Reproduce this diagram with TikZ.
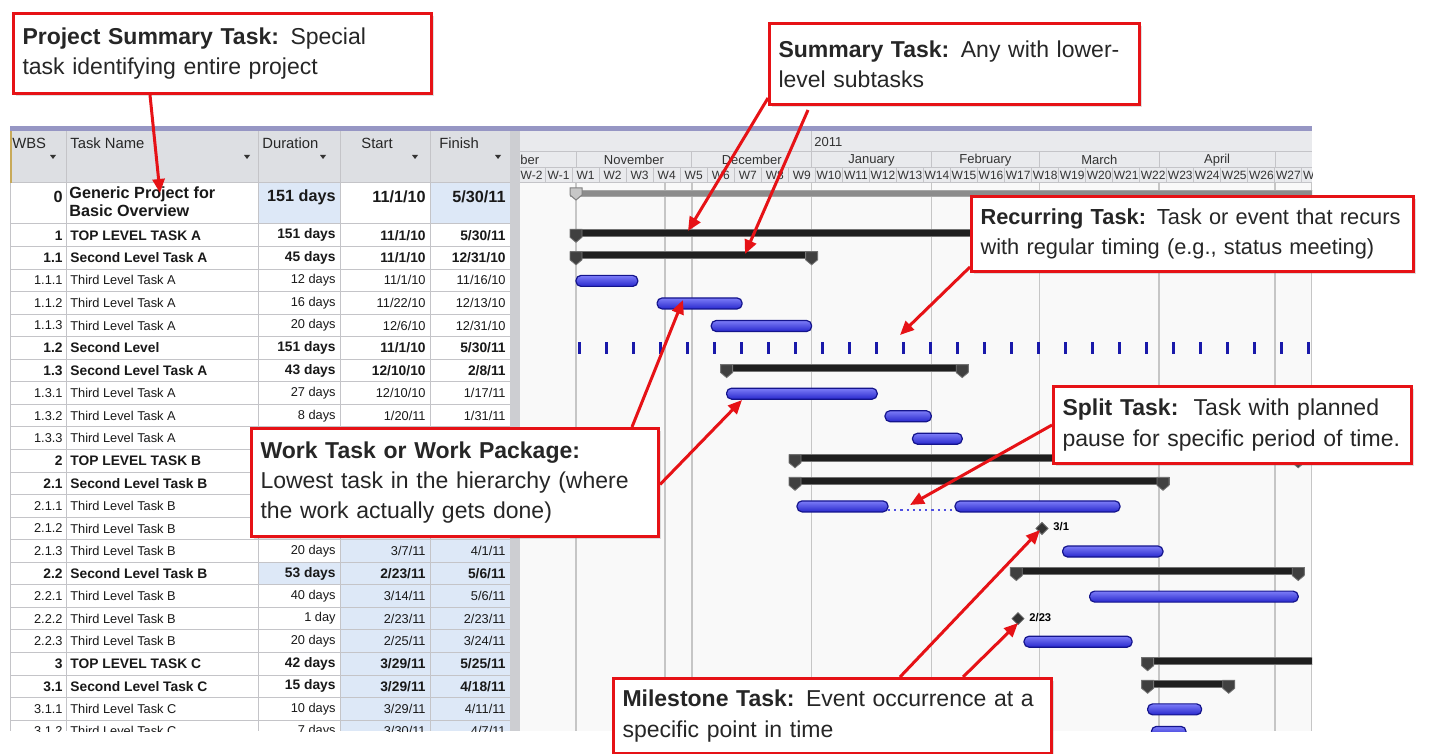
\documentclass[tikz,border=0pt]{standalone}
\usepackage{fontspec}
\setmainfont{Liberation Sans}
\usepackage{tikz}
\usetikzlibrary{arrows.meta,shadows}

\definecolor{calloutred}{RGB}{230,18,22}
\definecolor{barblue}{RGB}{40,40,205}
\definecolor{barbluetop}{RGB}{125,125,248}
\definecolor{barblueline}{RGB}{20,20,140}
\definecolor{splitblue}{RGB}{80,80,225}
\definecolor{tickblue}{RGB}{25,25,170}
\definecolor{cellblue}{RGB}{221,232,247}
\definecolor{headgrey}{RGB}{221,223,227}
\definecolor{scalegrey}{RGB}{233,234,237}
\definecolor{gridgrey}{RGB}{196,196,200}
\definecolor{headline}{RGB}{150,150,196}
\definecolor{chartbg}{RGB}{249,249,249}
\definecolor{sepgrey}{RGB}{205,206,210}
\definecolor{goldline}{RGB}{200,170,90}

\newcommand{\rowrm}{\fontsize{6.4}{8}\selectfont}
\newcommand{\rowbf}{\fontsize{6.9}{8}\selectfont\bfseries}

% one line of the task table: row, wbs, name, duration, start, finish, font
\newcommand{\wbsrow}[7]{%
  \pgfmathsetmacro{\rowY}{235.3+22.55*(#1-1)}
  \node[cellr, font=#7] (wbs#1) at (63,\rowY) {#2};
  \node[celll, font=#7] (name#1) at (70,\rowY) {#3};
  \node[cellr, font=#7] (dur#1) at (336,\rowY) {#4};
  \node[cellr, font=#7] (start#1) at (426,\rowY) {#5};
  \node[cellr, font=#7] (fin#1) at (506,\rowY) {#6};
}
% gantt bars: row, from, to
\newcommand{\workbar}[3]{%
  \pgfmathsetmacro{\barY}{235.8+22.55*(#1-1)}
  \draw[work] (#2,\barY-5.5) rectangle (#3,\barY+5.5);
}
\newcommand{\sumbar}[3]{%
  \pgfmathsetmacro{\barY}{232.8+22.55*(#1-1)}
  \filldraw[summary] (#2-6,\barY-3.5) rectangle (#3+6,\barY+3.5);
  \filldraw[summarycap] (#2-6,\barY-3.5) -- ++(12,0) -- ++(0,8) -- ++(-6,5) -- ++(-6,-5) -- cycle;
  \filldraw[summarycap] (#3-6,\barY-3.5) -- ++(12,0) -- ++(0,8) -- ++(-6,5) -- ++(-6,-5) -- cycle;
}
\newcommand{\mstone}[4]{%
  \pgfmathsetmacro{\barY}{235.3+22.55*(#1-1)}
  \filldraw[milestone] (#2-6,\barY) -- (#2,\barY-6) -- (#2+6,\barY) -- (#2,\barY+6) -- cycle;
  \node[msnote] (#4) at (#2+11,\barY-1.5) {#3};
}

\begin{document}
\begin{tikzpicture}[x=0.5pt,y=-0.5pt]
\tikzstyle{callout} = [rectangle, draw=calloutred, line width=1.5pt, fill=white, anchor=north west, align=left, inner xsep=4.5pt, inner ysep=2pt, font=\fontsize{11.5}{15.2}\selectfont, text=black!85, drop shadow={opacity=0.25,shadow xshift=1.2pt,shadow yshift=-1.2pt}]
\tikzstyle{callarrow} = [calloutred, line width=1.5pt, -{Triangle[length=7pt,width=6pt]}]
\tikzstyle{gridline} = [gridgrey, line width=0.5pt]
\tikzstyle{chartline} = [gray!45, line width=0.8pt]
\tikzstyle{cellr} = [anchor=east, inner sep=0pt, text=black!90]
\tikzstyle{celll} = [anchor=west, inner sep=0pt, text=black!90]
\tikzstyle{headlbl} = [anchor=west, inner sep=0pt, font=\fontsize{7.4}{8}\selectfont, text=black!85]
\tikzstyle{scalelbl} = [inner sep=0pt, font=\fontsize{6.5}{7}\selectfont, text=black!80]
\tikzstyle{weeklbl} = [inner sep=0pt, font=\fontsize{6}{7}\selectfont, text=black!80]
\tikzstyle{work} = [draw=barblueline, line width=0.6pt, top color=barbluetop, bottom color=barblue, rounded corners=2.5pt]
\tikzstyle{summary} = [fill=black!88, draw=black!55, line width=0.4pt]
\tikzstyle{summarycap} = [fill=black!75, draw=black!55, line width=0.4pt]
\tikzstyle{project} = [fill=black!45, draw=black!35, line width=0.4pt]
\tikzstyle{projectcap} = [fill=black!22, draw=black!50, line width=0.5pt]
\tikzstyle{milestone} = [fill=black!80, draw=black!60, line width=0.4pt]
\tikzstyle{msnote} = [anchor=west, inner sep=0pt, font=\fontsize{5.6}{6}\selectfont\bfseries]
\tikzstyle{recur} = [fill=tickblue]

\useasboundingbox (0,0) rectangle (1440,754);
\fill[white] (0,0) rectangle (1440,754);

% table
\begin{scope}
\clip (10,126) rectangle (510,731);
\fill[white] (10,183) rectangle (510,731);
\fill[headgrey] (10,131) rectangle (510,183);
\fill[cellblue] (258,183) rectangle (340,224) (430,183) rectangle (510,224);
\fill[cellblue] (340,539.7) rectangle (510,731);
\fill[cellblue] (258,562.25) rectangle (340,584.8);
\foreach \k in {0,...,22} \draw[gridline] (10,{224+22.55*\k}) -- (510,{224+22.55*\k});
\foreach \cx in {10,66,258,340,430} \draw[gridline] (\cx,131) -- (\cx,731);
\draw[gridline] (10,183) -- (510,183);
\draw[goldline, line width=1pt] (11,131) -- (11,183);
\node[headlbl] (hWBS) at (12,143) {WBS};
\node[headlbl] (hName) at (70,143) {Task Name};
\node[headlbl] (hDur) at (262,143) {Duration};
\node[headlbl] (hStart) at (361,143) {Start};
\node[headlbl] (hFin) at (439,143) {Finish};
\foreach \dx in {53,247,323,415,498} \fill[black!80] (\dx-3,155) -- (\dx+3,155) -- (\dx,159) -- cycle;
\node[cellr, font=\fontsize{8.1}{9}\selectfont\bfseries] (wbs0) at (63,197) {0};
\node[celll, anchor=north west, align=left, font=\fontsize{8.1}{9}\selectfont\bfseries] (name0) at (69,186) {Generic Project for\\Basic Overview};
\node[cellr, font=\fontsize{8.1}{9}\selectfont\bfseries] (dur0) at (336,197) {151 days};
\node[cellr, font=\fontsize{8.1}{9}\selectfont\bfseries] (start0) at (426,197) {11/1/10};
\node[cellr, font=\fontsize{8.1}{9}\selectfont\bfseries] (fin0) at (506,197) {5/30/11};
\wbsrow{1}{1}{TOP LEVEL TASK A}{151 days}{11/1/10}{5/30/11}{\rowbf}
\wbsrow{2}{1.1}{Second Level Task A}{45 days}{11/1/10}{12/31/10}{\rowbf}
\wbsrow{3}{1.1.1}{Third Level Task A}{12 days}{11/1/10}{11/16/10}{\rowrm}
\wbsrow{4}{1.1.2}{Third Level Task A}{16 days}{11/22/10}{12/13/10}{\rowrm}
\wbsrow{5}{1.1.3}{Third Level Task A}{20 days}{12/6/10}{12/31/10}{\rowrm}
\wbsrow{6}{1.2}{Second Level}{151 days}{11/1/10}{5/30/11}{\rowbf}
\wbsrow{7}{1.3}{Second Level Task A}{43 days}{12/10/10}{2/8/11}{\rowbf}
\wbsrow{8}{1.3.1}{Third Level Task A}{27 days}{12/10/10}{1/17/11}{\rowrm}
\wbsrow{9}{1.3.2}{Third Level Task A}{8 days}{1/20/11}{1/31/11}{\rowrm}
\wbsrow{10}{1.3.3}{Third Level Task A}{}{}{}{\rowrm}
\wbsrow{11}{2}{TOP LEVEL TASK B}{}{}{}{\rowbf}
\wbsrow{12}{2.1}{Second Level Task B}{}{}{}{\rowbf}
\wbsrow{13}{2.1.1}{Third Level Task B}{}{}{}{\rowrm}
\wbsrow{14}{2.1.2}{Third Level Task B}{}{}{}{\rowrm}
\wbsrow{15}{2.1.3}{Third Level Task B}{20 days}{3/7/11}{4/1/11}{\rowrm}
\wbsrow{16}{2.2}{Second Level Task B}{53 days}{2/23/11}{5/6/11}{\rowbf}
\wbsrow{17}{2.2.1}{Third Level Task B}{40 days}{3/14/11}{5/6/11}{\rowrm}
\wbsrow{18}{2.2.2}{Third Level Task B}{1 day}{2/23/11}{2/23/11}{\rowrm}
\wbsrow{19}{2.2.3}{Third Level Task B}{20 days}{2/25/11}{3/24/11}{\rowrm}
\wbsrow{20}{3}{TOP LEVEL TASK C}{42 days}{3/29/11}{5/25/11}{\rowbf}
\wbsrow{21}{3.1}{Second Level Task C}{15 days}{3/29/11}{4/18/11}{\rowbf}
\wbsrow{22}{3.1.1}{Third Level Task C}{10 days}{3/29/11}{4/11/11}{\rowrm}
\wbsrow{23}{3.1.2}{Third Level Task C}{7 days}{3/30/11}{4/7/11}{\rowrm}
\end{scope}
\fill[sepgrey] (510,126) rectangle (520,731);
\fill[headline] (10,126) rectangle (1312,131);

% gantt chart
\begin{scope}
\clip (520,131) rectangle (1312,731);
\fill[chartbg] (520,183) rectangle (1312,731);
\fill[scalegrey] (520,131) rectangle (1312,183);
\draw[gridline] (520,152) -- (1312,152) (520,168) -- (1312,168) (520,183) -- (1312,183);
\draw[gridline] (811.6,131) -- (811.6,152);
\node[scalelbl, anchor=west] (yr2011) at (814,142) {2011};
\foreach \ms/\me/\mname in {456.3/576/October, 576/691.9/November, 691.9/811.6/December, 811.6/931.3/January, 931.3/1039.4/February, 1039.4/1159.2/March, 1159.2/1275/April} {
  \draw[gridline] (\ms,152) -- (\ms,168);
  \node[scalelbl] (m\mname) at ({(\ms+\me)/2},160) {\mname};
}
\draw[gridline] (1275,152) -- (1275,168);
\foreach \k in {-1,...,28} {
  \pgfmathsetmacro{\weekX}{572.1+27.03*(\k-1)}
  \pgfmathtruncatemacro{\weekN}{\k<1 ? \k-1 : \k}
  \draw[gridline] (\weekX,168) -- (\weekX,183);
  \node[weeklbl] (w\k) at (\weekX+13.5,175.5) {W\weekN};
}
\foreach \gx in {576,665,691.9,811.6,931.3,1039.4,1159.2,1275,1311.5} \draw[chartline] (\gx,183) -- (\gx,731);
% bars
\filldraw[project] (570,190) rectangle (1320,196);
\filldraw[projectcap] (570,188) -- (582,188) -- (582,195) -- (576,200) -- (570,195) -- cycle;
\sumbar{1}{576}{1387}
\sumbar{2}{576}{811.6}
\workbar{3}{576}{637.8}
\workbar{4}{657.1}{742.1}
\workbar{5}{711.2}{811.6}
\foreach \i in {0,...,27} \fill[recur] (577.5+27.03*\i,342) rectangle ++(3,12);
\sumbar{7}{726.6}{962.2}
\workbar{8}{726.6}{877.2}
\workbar{9}{885}{931.3}
\workbar{10}{912.5}{962.2}
\sumbar{11}{795}{1298.2}
\sumbar{12}{795}{1163}
\workbar{13}{797}{888}
\draw[splitblue, dotted, line width=1.1pt] (888,\barY+3.5) -- (955,\barY+3.5);
\workbar{13}{955}{1120}
\mstone{14}{1042}{3/1}{ms31}
\workbar{15}{1062.6}{1163}
\sumbar{16}{1016.3}{1298.2}
\workbar{17}{1089.6}{1298.2}
\mstone{18}{1018}{2/23}{ms223}
\workbar{19}{1024}{1132.1}
\sumbar{20}{1147.6}{1371}
\sumbar{21}{1147.6}{1228.7}
\workbar{22}{1147.6}{1201.6}
\workbar{23}{1151.4}{1186}
\end{scope}

% callouts
\node[callout, text width=200pt, minimum height=40pt] (PST) at (12,12) {\textbf{Project Summary Task:} Special\\task identifying entire project};
\node[callout, text width=176pt, minimum height=40.5pt] (ST) at (768,22) {\textbf{Summary Task:} Any with lower-\\level subtasks};
\node[callout, text width=212pt, minimum height=37.5pt, font=\fontsize{10.9}{15.2}\selectfont] (RT) at (970,195) {\textbf{Recurring Task:} Task or event that recurs\\with regular timing (e.g., status meeting)};
\node[callout, text width=194.5pt, minimum height=54pt] (WT) at (250,427) {\textbf{Work Task or Work Package:}\\Lowest task in the hierarchy (where\\the work actually gets done)};
\node[callout, text width=170pt, minimum height=38.5pt] (SPT) at (1052,385) {\textbf{Split Task:}\ \ Task with planned\\pause for specific period of time.};
\node[callout, text width=210pt, minimum height=37.5pt] (MT) at (612,677) {\textbf{Milestone Task:} Event occurrence at a\\specific point in time};

\coordinate (pstTip) at (160,193);
\coordinate (stTipA) at (688,231);
\coordinate (stTipB) at (745,254);
\coordinate (rtTip) at (900,335);
\coordinate (wtTipA) at (683,300);
\coordinate (wtTipB) at (742,400);
\coordinate (sptTip) at (910,505);
\coordinate (mtTipA) at (1040,530);
\coordinate (mtTipB) at (1018,623);

\draw[callarrow] ([yshift=4pt]ST.south west) -- (stTipA);
\draw[callarrow] ([xshift=20pt,yshift=-2pt]ST.south west) -- (stTipB);
\draw[callarrow] ([xshift=69pt]PST.south west) -- (pstTip);
\draw[callarrow] ([yshift=3pt]RT.south west) -- (rtTip);
\draw[callarrow] ([xshift=191pt]WT.north west) -- (wtTipA);
\draw[callarrow] ([yshift=-1pt]WT.east) -- (wtTipB);
\draw[callarrow] (SPT.west) -- (sptTip);
\draw[callarrow] ([xshift=144pt]MT.north west) -- (mtTipA);
\draw[callarrow] ([xshift=175.5pt]MT.north west) -- (mtTipB);
\end{tikzpicture}
\end{document}
